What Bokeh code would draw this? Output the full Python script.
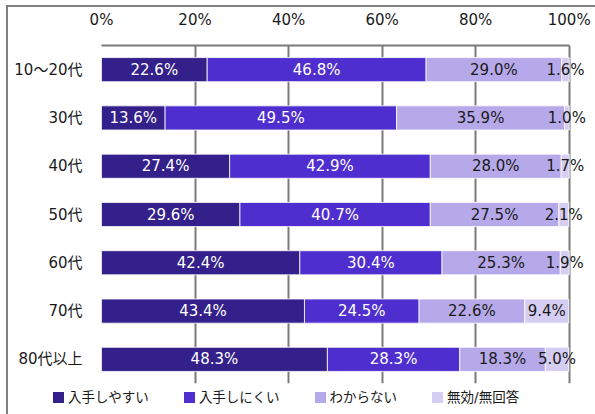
from bokeh.plotting import figure
from bokeh.layouts import column
from bokeh.models import (ColumnDataSource, FactorRange, Range1d, FixedTicker,
                          PrintfTickFormatter, LabelSet, Grid, Div)
from bokeh.core.properties import value
from bokeh.embed import file_html
from bokeh.resources import INLINE

categories = ["10～20代", "30代", "40代", "50代", "60代", "70代", "80代以上"]
series_names = ["入手しやすい", "入手しにくい", "わからない", "無効/無回答"]
easy = [22.6, 13.6, 27.4, 29.6, 42.4, 43.4, 48.3]
hard = [46.8, 49.5, 42.9, 40.7, 30.4, 24.5, 28.3]
unknown = [29.0, 35.9, 28.0, 27.5, 25.3, 22.6, 18.3]
invalid = [1.6, 1.0, 1.7, 2.1, 1.9, 9.4, 5.0]
x_ticks = [0, 20, 40, 60, 80, 100]

colors = ["#34208a", "#4f2ecf", "#b6a9ea", "#d6cdf3"]
label_colors = ["white", "white", "#1a1a1a", "#1a1a1a"]
FONT = "'DejaVu Sans', 'Noto Sans CJK JP'"
keys = ["easy", "hard", "unknown", "invalid"]
series = [easy, hard, unknown, invalid]

src = ColumnDataSource(dict(cat=categories, easy=easy, hard=hard,
                            unknown=unknown, invalid=invalid))

p = figure(width=587, height=378, output_backend="svg", toolbar_location=None,
           y_range=FactorRange(*reversed(categories), range_padding=0),
           x_range=Range1d(x_ticks[0], x_ticks[-1] + 3.7), x_axis_location="above",
           min_border_left=93, min_border_right=9, min_border_top=38,
           min_border_bottom=2)
p.outline_line_color = None
p.background_fill_color = "white"
p.border_fill_color = "white"

# grid lines
p.ygrid.grid_line_color = None
p.xgrid.ticker = FixedTicker(ticks=x_ticks[1:])
p.xgrid.grid_line_color = "#7a7a7a"
p.xgrid.grid_line_width = 2
zero_grid = Grid(dimension=0, ticker=FixedTicker(ticks=x_ticks[:1]),
                 grid_line_color="#d4d4d4", grid_line_width=2)
p.add_layout(zero_grid)

renderers = p.hbar_stack(keys, y="cat", height=0.5, source=src,
                         color=colors, line_color="white", line_width=0.8)

# axes
xa = p.xaxis[0]
xa.ticker = FixedTicker(ticks=x_ticks)
xa.bounds = (x_ticks[0], x_ticks[-1])
xa.formatter = PrintfTickFormatter(format="%d%%")
xa.axis_line_color = "#7a7a7a"
xa.axis_line_width = 2
xa.major_tick_line_color = None
xa.minor_tick_line_color = None
xa.major_tick_out = 0
xa.minor_tick_out = 0
xa.major_label_text_font = FONT
xa.major_label_text_font_size = "15px"
xa.major_label_text_color = "#1a1a1a"
xa.major_label_standoff = 17

ya = p.yaxis[0]
ya.axis_line_color = None
ya.major_tick_line_color = None
ya.minor_tick_line_color = None
ya.major_tick_out = 0
ya.minor_tick_out = 0
ya.major_label_text_font = FONT
ya.major_label_text_font_size = "15px"
ya.major_label_text_color = "#1a1a1a"
ya.major_label_standoff = 19

# value labels
for i, k in enumerate(keys):
    centers = []
    texts = []
    for j in range(len(categories)):
        left = sum(series[m][j] for m in range(i))
        centers.append(left + series[i][j] / 2)
        texts.append(f"{series[i][j]:.1f}%")
    ls = ColumnDataSource(dict(x=centers, y=categories, t=texts))
    p.add_layout(LabelSet(x="x", y="y", text="t", source=ls,
                          text_align="center", text_baseline="middle",
                          text_font=value(FONT), text_font_size="15px",
                          text_color=label_colors[i]))

# legend strip (HTML)
items_html = "".join(
    f'<span style="display:inline-block;margin-right:35px;">'
    f'<span style="display:inline-block;width:11px;height:11px;background:{c};'
    f'margin-right:4px;vertical-align:-1px;"></span>{n}</span>'
    for n, c in zip(series_names, colors))
legend_div = Div(
    text=f'<div style="font-family:{FONT};font-size:13.5px;color:#1a1a1a;'
         f'line-height:16px;white-space:nowrap;padding:4px 0 0 45px;margin:0;">{items_html}</div>',
    width=587, height=29, margin=(0, 0, 0, 0))

layout = column(p, legend_div, spacing=0)
layout.margin = (7, 0, 0, 8)
layout.styles = {"outline": "2px solid #7f7f7f", "outline-offset": "0px",
                 "background-color": "white"}

open("out.html", "w").write(file_html(layout, INLINE))
